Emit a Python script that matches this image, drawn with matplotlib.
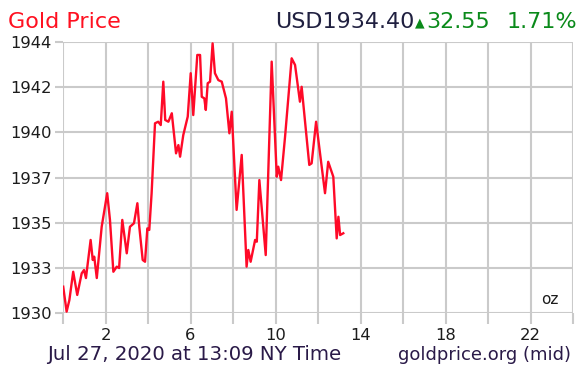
import matplotlib
matplotlib.use("Agg")
import matplotlib.pyplot as plt
import numpy as np

# hours since midnight (NY time), price in USD/oz
hours = [0.01, 0.17, 0.30, 0.48, 0.67, 0.88, 0.99, 1.08, 1.30, 1.40, 1.47, 1.59, 1.82, 2.08, 2.21,
         2.37, 2.53, 2.64, 2.79, 3.00, 3.15, 3.34, 3.50, 3.59, 3.75, 3.86, 3.97, 4.06, 4.17, 4.33,
         4.48, 4.60, 4.72, 4.81, 4.96, 5.12, 5.32, 5.43, 5.51, 5.66, 5.87, 6.01, 6.13, 6.32, 6.45,
         6.53, 6.65, 6.72, 6.81, 6.92, 7.04, 7.15, 7.31, 7.47, 7.67, 7.83, 7.94, 8.17, 8.41, 8.64,
         8.72, 8.83, 9.04, 9.12, 9.24, 9.54, 9.82, 10.06, 10.13, 10.26, 10.45, 10.76, 10.92, 11.15,
         11.23, 11.59, 11.70, 11.91, 12.33, 12.48, 12.72, 12.88, 12.96, 13.04, 13.19]
prices = [1931.74, 1930.47, 1931.06, 1932.50, 1931.32, 1932.42, 1932.59, 1932.18, 1934.12, 1933.10,
          1933.27, 1932.18, 1934.79, 1936.50, 1935.14, 1932.50, 1932.76, 1932.69, 1935.14, 1933.44,
          1934.79, 1934.97, 1935.99, 1934.79, 1933.10, 1933.01, 1934.71, 1934.63, 1936.50, 1940.06,
          1940.14, 1939.97, 1942.18, 1940.23, 1940.14, 1940.57, 1938.53, 1938.95, 1938.36, 1939.46,
          1940.40, 1942.61, 1940.48, 1943.54, 1943.54, 1941.41, 1941.33, 1940.74, 1942.10, 1942.18,
          1944.13, 1942.61, 1942.26, 1942.18, 1941.33, 1939.55, 1940.65, 1935.65, 1938.45, 1932.76,
          1933.61, 1933.01, 1934.12, 1934.03, 1937.17, 1933.35, 1943.20, 1937.34, 1937.85, 1937.17,
          1939.38, 1943.37, 1943.03, 1941.16, 1941.92, 1937.94, 1938.02, 1940.14, 1936.50, 1938.10,
          1937.34, 1934.20, 1935.30, 1934.37, 1934.46]

x_ticks = [0, 2, 4, 6, 8, 10, 12, 14, 16, 18, 20, 22, 24]
x_labels = ["", "2", "", "6", "", "10", "", "14", "", "18", "", "22", ""]
y_min, y_max = 1930.4, 1944.2
y_labels = ["1930", "1933", "1935", "1937", "1940", "1942", "1944"]

W, H = 588, 371
fig = plt.figure(figsize=(W / 100, H / 100), dpi=100)
fig.patch.set_facecolor("white")

def fx(px):
    return px / W

def fy(py):
    return 1 - py / H

ax = fig.add_axes([fx(63), fy(313), fx(573) - fx(63), fy(42) - fy(313)])
ax.set_xlim(0, 24)
ax.set_ylim(y_min, y_max)
ax.plot(hours, prices, color="#ff0a28", lw=1.7, solid_joinstyle="round")

ax.set_xticks(x_ticks)
ax.set_xticklabels(x_labels)
y_ticks = np.linspace(y_min, y_max, len(y_labels))
ax.set_yticks(y_ticks)
ax.set_yticklabels(y_labels)

grid_c = "#cacaca"
ax.grid(True, color=grid_c, lw=1.5)
ax.set_axisbelow(True)
for s in ax.spines.values():
    s.set_visible(False)
ax.tick_params(axis="both", colors=grid_c, width=1.5, labelcolor="#1c1c1c", labelsize=11.8)
ax.tick_params(axis="y", length=6, pad=2)
ax.tick_params(axis="x", length=8, pad=3)

ax.text(0.972, 0.022, "oz", transform=ax.transAxes, ha="right", va="bottom",
        fontsize=11, color="#1c1c1c")

fig.text(fx(8), fy(28), "Gold Price", color="#ff1020", fontsize=16, ha="left", va="baseline")
fig.text(fx(415), fy(28), "USD1934.40", color="#202040", fontsize=16, ha="right", va="baseline")
fig.text(fx(415), fy(26), "\u25B2", color="#0a8a1a", fontsize=9, ha="left", va="baseline")
fig.text(fx(426), fy(28), "32.55", color="#0a8a1a", fontsize=16, ha="left", va="baseline")
fig.text(fx(577), fy(28), "1.71%", color="#0a8a1a", fontsize=16, ha="right", va="baseline")

fig.text(fx(47), fy(360), "Jul 27, 2020 at 13:09 NY Time", color="#2a1a48", fontsize=14.2,
         ha="left", va="baseline")
fig.text(fx(571), fy(360), "goldprice.org (mid)", color="#2a1a48", fontsize=13,
         ha="right", va="baseline")

fig.savefig("out.png", dpi=100, facecolor="white")
